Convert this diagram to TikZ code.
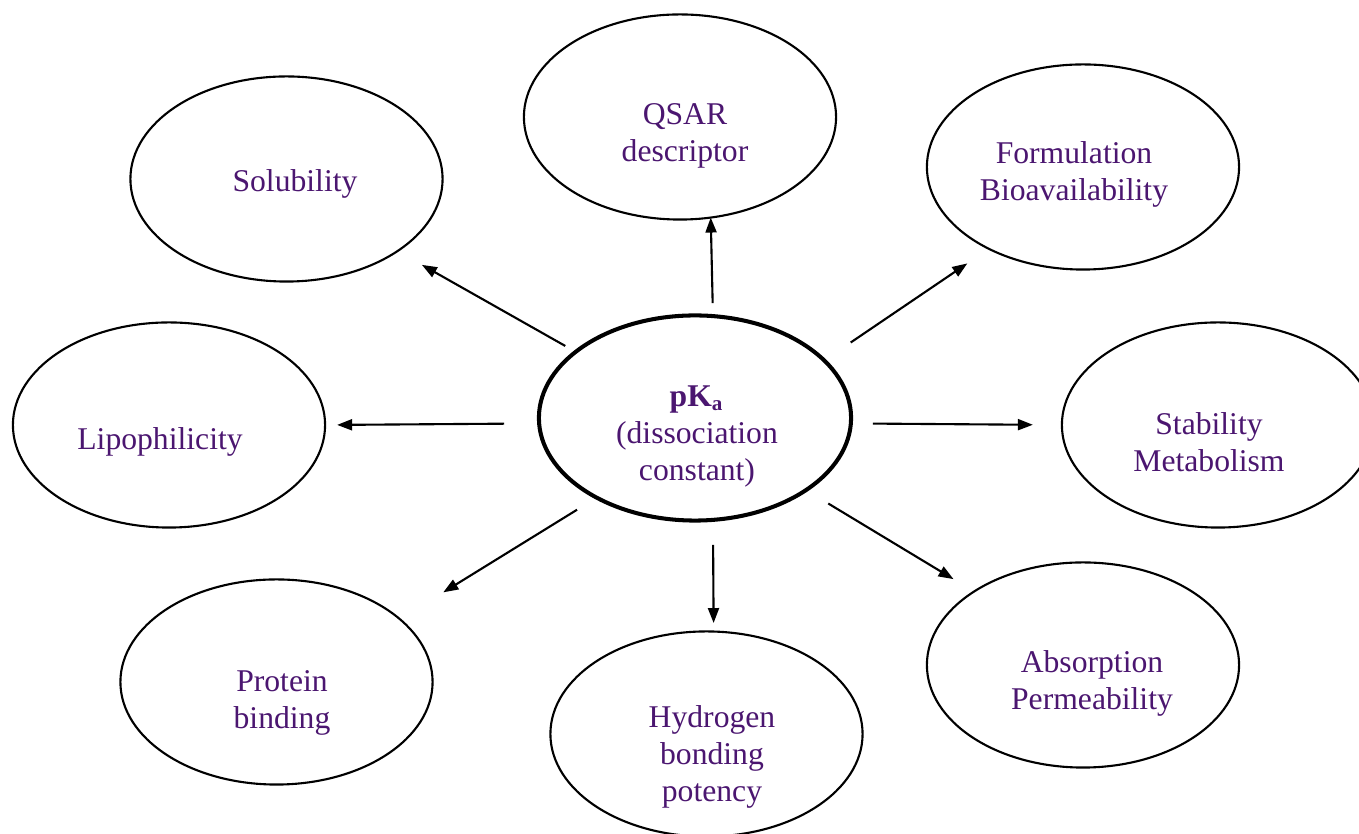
\documentclass[tikz,border=0pt]{standalone}
\usepackage{fontspec}
\setmainfont{Liberation Serif}
\usepackage{xcolor}
\usepackage{tikz}
\usetikzlibrary{arrows.meta,shapes.geometric}
\definecolor{pkviolet}{RGB}{75,22,112}

\begin{document}
\begin{tikzpicture}[x=0.01cm,y=-0.01cm,
  bubble/.style={ellipse,draw,line width=0.6pt,minimum width=3.12cm,minimum height=2.05cm,inner sep=0pt,outer sep=0pt},
  txt/.style={text=pkviolet,align=center,inner sep=0pt,font=\fontsize{9}{10.5}\selectfont},
  arr/.style={-{Triangle[length=1.5mm,width=1.1mm]},line width=0.6pt}]
  \useasboundingbox (0,0) rectangle (1359,834);
  % centre
  \node[bubble,line width=1.15pt] (pka) at (695,418) {};
  \node[txt] (pka-t) at (697,436.5) {\textbf{pK\textsubscript{a}}\\(dissociation\\constant)};
  % outer ring
  \node[bubble] (qsar) at (680,117) {};
  \node[txt] (qsar-t) at (685,135.5) {QSAR\\descriptor};
  \node[bubble] (sol) at (286.5,179) {};
  \node[txt] (sol-t) at (295,184) {Solubility};
  \node[bubble] (form) at (1083,167) {};
  \node[txt] (form-t) at (1074,174) {Formulation\\Bioavailability};
  \node[bubble] (lipo) at (169,425) {};
  \node[txt] (lipo-t) at (160,442) {Lipophilicity};
  \node[bubble] (stab) at (1218,425) {};
  \node[txt] (stab-t) at (1209,442.5) {Stability\\Metabolism};
  \node[bubble] (prot) at (276.5,682) {};
  \node[txt] (prot-t) at (282,702.5) {Protein\\binding};
  \node[bubble] (hyd) at (706.5,734) {};
  \node[txt] (hyd-t) at (712,757) {Hydrogen\\bonding\\potency};
  \node[bubble] (abs) at (1083,665) {};
  \node[txt] (abs-t) at (1092,683.5) {Absorption\\Permeability};
  % arrows
  \foreach \s/\t/\a/\b in {151.5/sol.-33.4/1.2/2.8, 80/qsar.-73/1.3/0, 24/form.-139/3.2/2.6,
      182.6/lipo.0/3.5/1.2, -2.5/stab.180/2.2/2.9, -141.5/prot.27/2.3/5.1,
      -80.5/hyd.86.9/2.5/0.85, -33.4/abs.146.5/2.6/2.4}
    \draw[arr,shorten <=\a mm,shorten >=\b mm] (pka.\s) -- (\t);
\end{tikzpicture}
\end{document}
